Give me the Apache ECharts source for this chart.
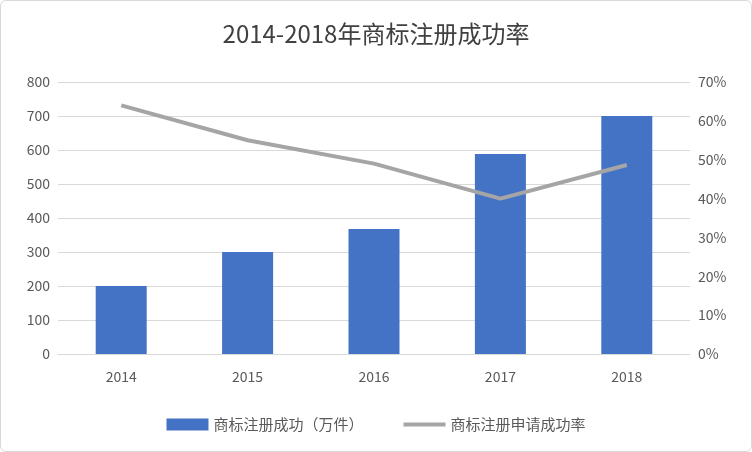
<!DOCTYPE html>
<html><head><meta charset="utf-8">
<script src="https://cdn.jsdelivr.net/npm/echarts@6/dist/echarts.min.js"></script>
<style>html,body{margin:0;padding:0;background:#fff}#c{width:750px;height:450px;border:1px solid #d9d9d9;border-radius:6px}</style>
</head><body><div id="c"></div>
<script>
const categories = ['2014','2015','2016','2017','2018'];
const barValues = [200, 300, 368, 588, 700];
const rateValues = [64, 55, 49, 40, 48.65];
const rateLabels = ['64%','55.00%','49.00%','40.00%','48.65%'];
const chart = echarts.init(document.getElementById('c'));
const font = '"Noto Sans CJK SC", "Noto Sans", sans-serif';
chart.setOption({
  textStyle:{fontFamily:font},
  title:{text:'2014-2018年商标注册成功率',left:'center',top:16,textStyle:{fontSize:24,fontWeight:'normal',color:'#404040',fontFamily:font}},
  grid:{left:57,right:61,top:81,bottom:97},
  legend:{bottom:14,itemGap:40,textStyle:{fontSize:15,color:'#595959'},
    data:[{name:'商标注册成功（万件）',icon:'rect'},{name:'商标注册申请成功率',icon:'path://M0,0L10,0L10,1L0,1Z'}],
    itemWidth:42,itemHeight:12},
  xAxis:{type:'category',data:categories,axisTick:{show:false},axisLine:{lineStyle:{color:'#d9d9d9'}},axisLabel:{fontSize:14,color:'#595959',margin:16}},
  yAxis:[
    {type:'value',min:0,max:800,interval:100,axisLabel:{fontSize:14,color:'#595959'},splitLine:{lineStyle:{color:'#d9d9d9'}}},
    {type:'value',min:0,max:70,interval:10,axisLabel:{fontSize:14,color:'#595959',formatter:'{value}%'},splitLine:{show:false}}
  ],
  series:[
    {name:'商标注册成功（万件）',type:'bar',data:barValues,barWidth:51,itemStyle:{color:'#4472c4'}},
    {name:'商标注册申请成功率',type:'line',yAxisIndex:1,data:rateValues,symbol:'none',lineStyle:{color:'#a5a5a5',width:4},itemStyle:{color:'#a5a5a5'},
      label:{show:true,position:'right',distance:4,fontSize:14,color:'#404040',formatter:p=>rateLabels[p.dataIndex]}}
  ]
});
</script></body></html>
